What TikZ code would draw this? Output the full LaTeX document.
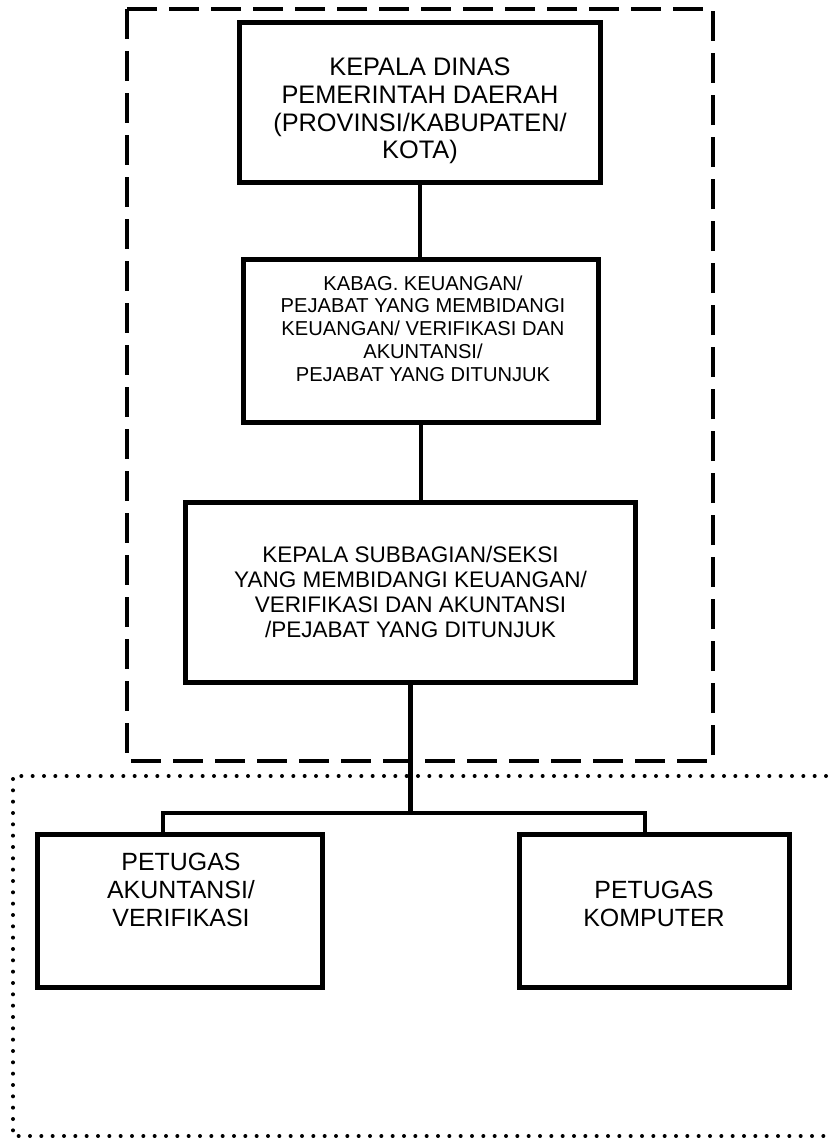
\documentclass[tikz,border=0pt]{standalone}
\usepackage{fontspec}
\setmainfont{Liberation Sans}
\begin{document}
\begin{tikzpicture}[x=0.75pt,y=-0.75pt,
  box/.style={draw=black,line width=3.75pt,fill=white,inner sep=0pt,outer sep=0pt},
  conn/.style={draw=black,line width=3.6pt},
  txt/.style={align=center,inner sep=0pt,text=black},
  dashbox/.style={draw=black,line width=2.8pt,dash pattern=on 22.5pt off 9pt},
  dotbox/.style={draw=black,line width=3pt,line cap=round,dash pattern=on 0pt off 8.5pt}]
\useasboundingbox (0,0) rectangle (831,1138);
\clip (0,0) rectangle (831,1138);
% frames
\draw[dashbox] (127,9) rectangle (713,761);
\draw[dotbox] (860,776) -- (13,776) -- (13,1136) -- (860,1136);
% boxes
\node[box,minimum width=270.75pt,minimum height=120pt] (b1) at (420,102.5) {};
\node[box,minimum width=266.25pt,minimum height=122.25pt] (b2) at (421,341) {};
\node[box,minimum width=337.5pt,minimum height=135pt] (b3) at (410.5,592.5) {};
\node[box,minimum width=213.75pt,minimum height=114.75pt] (b4) at (180,911) {};
\node[box,minimum width=202.5pt,minimum height=114.75pt] (b5) at (654.5,911) {};
% texts
\node[txt,font=\fontsize{19pt}{20.8pt}\selectfont] (t1) at (420,111)
  {KEPALA DINAS\\PEMERINTAH DAERAH\\(PROVINSI/KABUPATEN/\\KOTA)};
\node[txt,font=\fontsize{15.1pt}{17.05pt}\selectfont] (t2) at (423,328.5)
  {KABAG. KEUANGAN/\\PEJABAT YANG MEMBIDANGI\\KEUANGAN/ VERIFIKASI DAN\\AKUNTANSI/\\PEJABAT YANG DITUNJUK};
\node[txt,font=\fontsize{16.9pt}{18.75pt}\selectfont] (t3) at (410.5,591.5)
  {KEPALA SUBBAGIAN/SEKSI\\YANG MEMBIDANGI KEUANGAN/\\VERIFIKASI DAN AKUNTANSI\\/PEJABAT YANG DITUNJUK};
\node[txt,font=\fontsize{18.7pt}{21pt}\selectfont] (t4) at (181,890)
  {PETUGAS\\AKUNTANSI/\\VERIFIKASI};
\node[txt,font=\fontsize{18.7pt}{21pt}\selectfont] (t5) at (654,904)
  {PETUGAS\\KOMPUTER};
% connectors
\coordinate (jl) at (163,813);
\coordinate (jr) at (645,813);
\draw[conn] (b1.south) -- (b1.south |- b2.north);
\draw[conn] (b2.south) -- (b2.south |- b3.north);
\draw[conn] (b3.south) -- (b3.south |- jl);
\draw[conn] (b4.north -| jl) -- (jl) -- (jr) -- (b5.north -| jr);
\end{tikzpicture}
\end{document}
